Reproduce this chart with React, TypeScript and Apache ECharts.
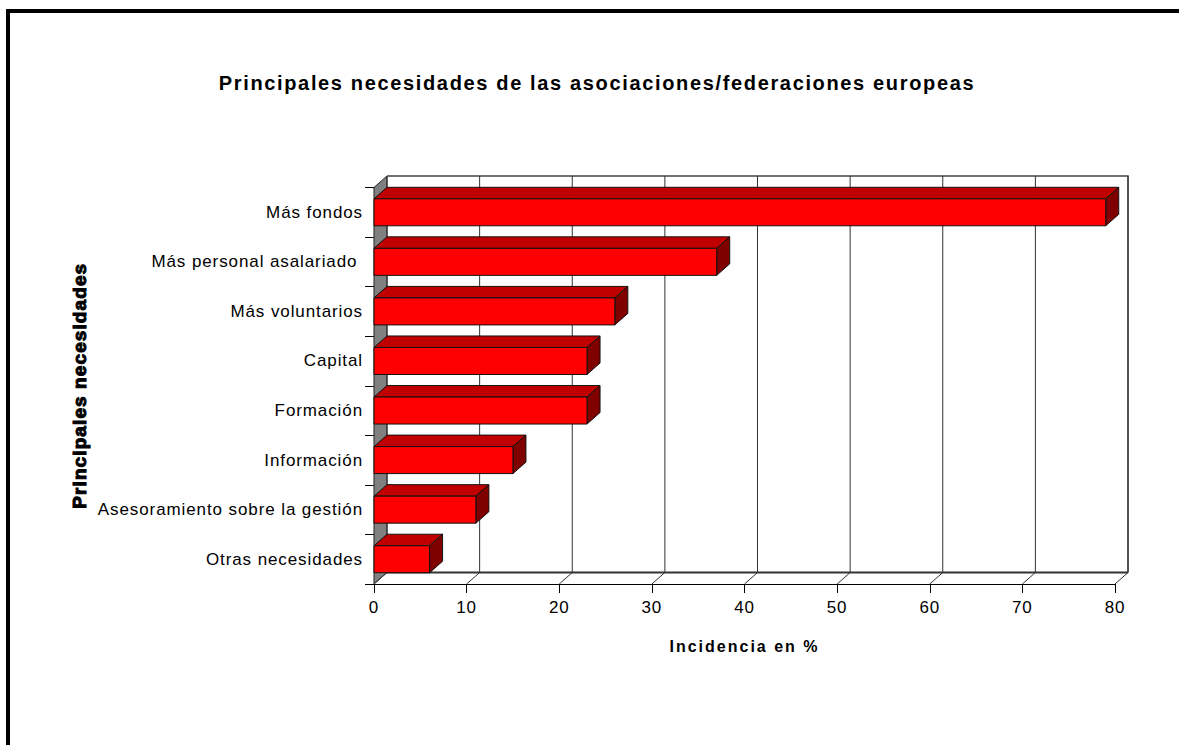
import React, { useEffect, useRef } from "react";
import * as echarts from "echarts";

const titleText = "Principales necesidades de las asociaciones/federaciones europeas";
const xAxisTitle = "Incidencia en %";
const yAxisTitle = "Principales necesidades";
const categories = [
  "Más fondos",
  "Más personal asalariado ",
  "Más voluntarios",
  "Capital",
  "Formación",
  "Información",
  "Asesoramiento sobre la gestión",
  "Otras necesidades",
];
const values = [79, 37, 26, 23, 23, 15, 11, 6];
const xTicks = [0, 10, 20, 30, 40, 50, 60, 70, 80];

const DX = 13;
const DY = -11.5;
const BAR_H = 27;
const FONT = "'Liberation Sans', Arial, sans-serif";

const App = () => {
  const ref = useRef<HTMLDivElement>(null);
  useEffect(() => {
    document.body.style.margin = "0";
    const chart = echarts.init(ref.current!, null, { renderer: "svg" });
    chart.setOption({
      animation: false,
      backgroundColor: "#fff",
      title: {
        text: titleText,
        left: 592,
        top: 68,
        textAlign: "center",
        textStyle: { fontFamily: FONT, fontSize: 20, fontWeight: "bold", color: "#000" },
      },
      graphic: [
        {
          type: "rect",
          silent: true,
          z: 100,
          shape: { x: 8, y: 11, width: 1400, height: 1000 },
          style: { fill: "none", stroke: "#000", lineWidth: 4 },
        },
      ],
      grid: { left: 374, top: 187.5, width: 741, height: 396.5 },
      xAxis: {
        type: "value",
        min: 0,
        max: 80,
        interval: 10,
        name: xAxisTitle,
        nameLocation: "middle",
        nameGap: 54,
        nameTextStyle: { fontFamily: FONT, fontSize: 16, fontWeight: "bold", color: "#000" },
        axisLine: { show: true, lineStyle: { color: "#000", width: 1 } },
        axisTick: { show: true, length: 9, lineStyle: { color: "#000" } },
        axisLabel: { fontFamily: FONT, fontSize: 17, color: "#000", margin: 15 },
        splitLine: { show: false },
      },
      yAxis: {
        type: "category",
        data: categories,
        inverse: true,
        name: yAxisTitle,
        nameLocation: "middle",
        nameRotate: 90,
        nameGap: 285,
        nameTextStyle: {
          fontFamily: FONT,
          fontSize: 19,
          fontWeight: "bold",
          color: "#000",
          textBorderColor: "#000",
          textBorderWidth: 1,
        },
        axisLine: { show: true, lineStyle: { color: "#000", width: 1 } },
        axisTick: { show: true, length: 9, lineStyle: { color: "#000" } },
        axisLabel: { fontFamily: FONT, fontSize: 17, color: "#000", margin: 11, padding: [0, 0, 2, 0] },
        splitLine: { show: false },
      },
      series: [
        {
          type: "custom",
          name: "walls",
          coordinateSystem: "cartesian2d",
          silent: true,
          z: 1,
          data: [[0, 0]],
          renderItem: (params: any) => {
            const c = params.coordSys;
            const x0 = c.x, y0 = c.y, x1 = c.x + c.width, y1 = c.y + c.height;
            return {
              type: "group",
              children: [
                {
                  type: "polygon",
                  shape: { points: [[x0, y0], [x0 + DX, y0 + DY], [x0 + DX, y1 + DY], [x0, y1]] },
                  style: { fill: "#808080", stroke: "#222", lineWidth: 1 },
                },
                {
                  type: "polyline",
                  shape: { points: [[x0 + DX, y0 + DY], [x1 + DX, y0 + DY], [x1 + DX, y1 + DY]] },
                  style: { fill: "none", stroke: "#444", lineWidth: 1.5 },
                },
                {
                  type: "line",
                  shape: { x1: x0 + DX, y1: y1 + DY, x2: x1 + DX, y2: y1 + DY },
                  style: { stroke: "#333", lineWidth: 2 },
                },
              ],
            };
          },
        },
        {
          type: "custom",
          name: "gridlines",
          coordinateSystem: "cartesian2d",
          silent: true,
          z: 2,
          data: xTicks.map((t) => [t, 0]),
          encode: { x: 0, y: 1 },
          renderItem: (params: any, api: any) => {
            const c = params.coordSys;
            const x = api.coord([api.value(0), 0])[0];
            const y0 = c.y, y1 = c.y + c.height;
            return {
              type: "polyline",
              shape: { points: [[x, y1], [x + DX, y1 + DY], [x + DX, y0 + DY]] },
              style: { fill: "none", stroke: "#333", lineWidth: 1 },
            };
          },
        },
        {
          type: "custom",
          name: "Incidencia",
          coordinateSystem: "cartesian2d",
          z: 3,
          data: values.map((v, i) => [v, i]),
          encode: { x: 0, y: 1 },
          renderItem: (_params: any, api: any) => {
            const p0 = api.coord([0, api.value(1)]);
            const p1 = api.coord([api.value(0), api.value(1)]);
            const xa = p0[0], xb = p1[0];
            const t = p0[1] - BAR_H / 2, b = p0[1] + BAR_H / 2;
            const stroke = { stroke: "#111", lineWidth: 1 };
            return {
              type: "group",
              children: [
                {
                  type: "polygon",
                  shape: { points: [[xa, t], [xa + DX, t + DY], [xb + DX, t + DY], [xb, t]] },
                  style: { fill: "#C00000", ...stroke },
                },
                {
                  type: "polygon",
                  shape: { points: [[xb, t], [xb + DX, t + DY], [xb + DX, b + DY], [xb, b]] },
                  style: { fill: "#800000", ...stroke },
                },
                {
                  type: "rect",
                  shape: { x: xa, y: t, width: xb - xa, height: BAR_H },
                  style: { fill: "#FF0000", ...stroke },
                },
              ],
            };
          },
        },
      ],
    });
    const spacing: Record<string, string> = {
      [titleText]: "1.65px",
      [yAxisTitle]: "1.1px",
      [xAxisTitle]: "2px",
    };
    ref.current!.querySelectorAll("text").forEach((t) => {
      t.style.letterSpacing = spacing[t.textContent || ""] || "0.9px";
    });
    return () => chart.dispose();
  }, []);
  return <div ref={ref} style={{ width: 1179, height: 745 }} />;
};

export default App;
